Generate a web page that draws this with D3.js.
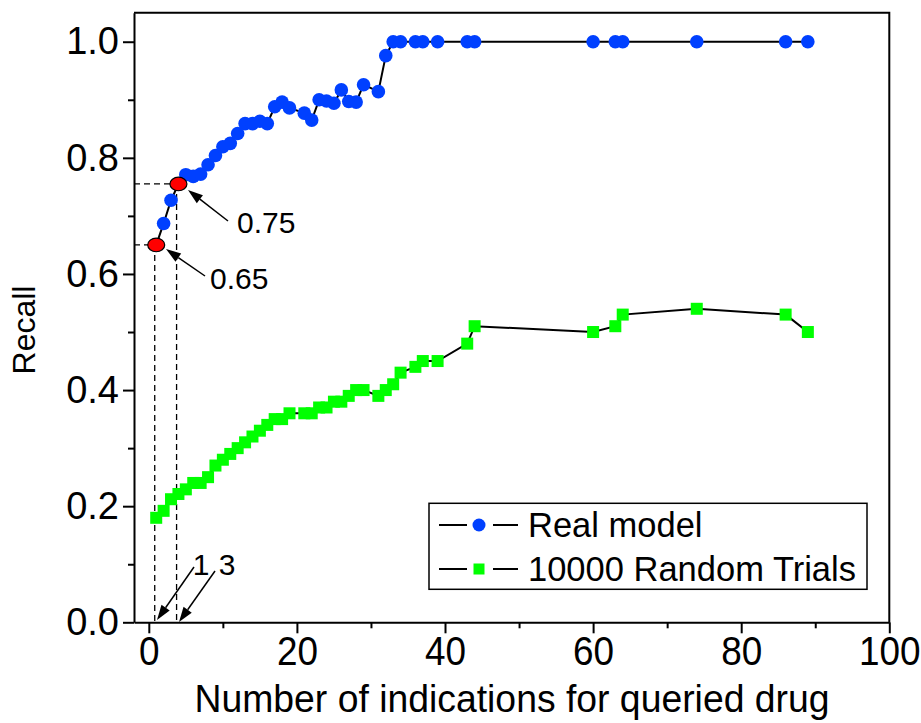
<!DOCTYPE html>
<html><head><meta charset="utf-8">
<script src="https://cdn.jsdelivr.net/npm/d3@7"></script>
<style>
html,body{margin:0;padding:0;background:#fff;}
text{font-family:"Liberation Sans",Arial,sans-serif;fill:#000;}
</style></head>
<body>
<svg id="chart" width="921" height="723"></svg>
<script>
// ---- data ----
const indications = [1,2,3,4,5,6,7,8,9,10,11,12,13,14,15,16,17,18,19,21,22,23,24,25,26,27,28,29,31,32,33,34,36,37,39,43,44,60,63,64,74,86,89];
const realModel = [0.65,0.687,0.727,0.755,0.771,0.768,0.772,0.788,0.804,0.819,0.825,0.842,0.859,0.859,0.863,0.859,0.888,0.896,0.886,0.877,0.865,0.900,0.898,0.894,0.917,0.897,0.896,0.926,0.914,0.976,1,1,1,1,1,1,1,1,1,1,1,1,1];
const randomTrials = [0.180,0.192,0.212,0.221,0.229,0.240,0.240,0.250,0.270,0.280,0.290,0.300,0.310,0.320,0.330,0.340,0.350,0.350,0.360,0.360,0.360,0.370,0.370,0.380,0.380,0.390,0.400,0.400,0.390,0.400,0.410,0.430,0.440,0.450,0.450,0.480,0.510,0.500,0.510,0.530,0.540,0.530,0.500];
const xMajorTicks = [0,20,40,60,80,100];
const xMinorTicks = [10,30,50,70,90];
const yMajorTicks = [0,0.2,0.4,0.6,0.8,1.0];
const yMinorTicks = [0.1,0.3,0.5,0.7,0.9];
const highlights = [{x:1,y:0.65,label:"0.65"},{x:4,y:0.755,label:"0.75"}];
const seriesNames = ["Real model","10000 Random Trials"];

const svg = d3.select("#chart");
const L=134, R=889.3, T=12.7, B=622.3;
const x = d3.scaleLinear().domain([-2,100]).range([L,R]);
const y = d3.scaleLinear().domain([0,1.05]).range([B,T]);

// frame
svg.append("path").attr("d",`M${L},${T}H${R}V${B}`).attr("fill","none").attr("stroke","#000").attr("stroke-width",2);

// axes
const gx = svg.append("g").attr("transform",`translate(0,${B})`);
gx.call(d3.axisBottom(x).tickValues(xMajorTicks).tickSize(11).tickSizeOuter(0).tickPadding(3).tickFormat(d3.format("d")));
const gxm = svg.append("g").attr("transform",`translate(0,${B})`);
gxm.call(d3.axisBottom(x).tickValues(xMinorTicks).tickSize(6).tickFormat(""));
gxm.select(".domain").remove();
const gy = svg.append("g").attr("transform",`translate(${L},0)`);
gy.call(d3.axisLeft(y).tickValues(yMajorTicks).tickSize(11).tickSizeOuter(0).tickPadding(4).tickFormat(d3.format(".1f")));
const gym = svg.append("g").attr("transform",`translate(${L},0)`);
gym.call(d3.axisLeft(y).tickValues(yMinorTicks).tickSize(6).tickFormat(""));
gym.select(".domain").remove();
svg.selectAll(".domain, .tick line").attr("stroke","#000").attr("stroke-width",2);
gx.selectAll("text").attr("font-size",41).attr("font-family","Liberation Sans, Arial").attr("transform","scale(0.9,1)");
gy.selectAll("text").attr("font-size",38).attr("font-family","Liberation Sans, Arial");

// axis titles
svg.append("text").attr("x",512).attr("y",712).attr("text-anchor","middle")
  .attr("font-size",38).attr("textLength",635).attr("lengthAdjust","spacingAndGlyphs")
  .text("Number of indications for queried drug");
svg.append("text").attr("transform",`translate(35,330) rotate(-90)`).attr("text-anchor","middle")
  .attr("font-size",32).text("Recall");

// dashed guides
const dash = svg.append("g").attr("stroke","#000").attr("stroke-width",1.3).attr("stroke-dasharray","6,4").attr("fill","none");
dash.append("line").attr("x1",L).attr("x2",x(1)).attr("y1",y(0.65)).attr("y2",y(0.65));
dash.append("line").attr("x1",L).attr("x2",x(4)).attr("y1",y(0.755)).attr("y2",y(0.755));
dash.append("line").attr("x1",x(0.8)).attr("x2",x(0.8)).attr("y1",y(0.65)).attr("y2",B);
dash.append("line").attr("x1",x(3.75)).attr("x2",x(3.75)).attr("y1",y(0.755)).attr("y2",B);

// lines
const pts1 = indications.map((d,i)=>[d,realModel[i]]);
const pts2 = indications.map((d,i)=>[d,randomTrials[i]]);
const line = d3.line().x(d=>x(d[0])).y(d=>y(d[1]));
svg.append("path").datum(pts1).attr("d",line).attr("fill","none").attr("stroke","#000").attr("stroke-width",2);
svg.append("path").datum(pts2).attr("d",line).attr("fill","none").attr("stroke","#000").attr("stroke-width",2);

// markers
const blue="#0040ff", green="#00ff00";
svg.append("g").selectAll("circle").data(pts1).join("circle")
  .attr("cx",d=>x(d[0])).attr("cy",d=>y(d[1])).attr("r",6.8).attr("fill",blue);
svg.append("g").selectAll("rect").data(pts2).join("rect")
  .attr("x",d=>x(d[0])-6).attr("y",d=>y(d[1])-6).attr("width",12).attr("height",12).attr("fill",green);

// highlighted red points
svg.append("g").selectAll("ellipse").data(highlights).join("ellipse")
  .attr("cx",d=>x(d.x)).attr("cy",d=>y(d.y)).attr("rx",8.5).attr("ry",6.8)
  .attr("fill","#ff0000").attr("stroke","#000").attr("stroke-width",1.2);

// arrows
function arrow(x1,y1,x2,y2){
  const a=Math.atan2(y2-y1,x2-x1), len=15, w=5;
  const bx=x2-len*Math.cos(a), by=y2-len*Math.sin(a);
  svg.append("line").attr("x1",x1).attr("y1",y1).attr("x2",bx).attr("y2",by).attr("stroke","#000").attr("stroke-width",1.5);
  const px=-Math.sin(a)*w, py=Math.cos(a)*w;
  svg.append("path").attr("d",`M${x2},${y2}L${bx+px},${by+py}L${bx-px},${by-py}Z`).attr("fill","#000");
}
arrow(228,221,188,190);
arrow(205,276,166,249);
arrow(194,567,157,620);
arrow(215,571,179,622);

svg.append("text").attr("x",237).attr("y",233).attr("font-size",30).text(highlights[1].label);
svg.append("text").attr("x",210).attr("y",289).attr("font-size",30).text(highlights[0].label);
svg.append("text").attr("x",201).attr("y",575).attr("text-anchor","middle").attr("font-size",30).text("1");
svg.append("text").attr("x",227).attr("y",575).attr("text-anchor","middle").attr("font-size",30).text("3");

// legend
const lg = svg.append("g");
lg.append("rect").attr("x",429).attr("y",503.3).attr("width",438).attr("height",86).attr("fill","#fff").attr("stroke","#000").attr("stroke-width",1.5);
const rows=[525,569];
rows.forEach((ry,i)=>{
  lg.append("line").attr("x1",439).attr("x2",467).attr("y1",ry).attr("y2",ry).attr("stroke","#000").attr("stroke-width",2);
  lg.append("line").attr("x1",493).attr("x2",518).attr("y1",ry).attr("y2",ry).attr("stroke","#000").attr("stroke-width",2);
  if(i===0) lg.append("circle").attr("cx",479).attr("cy",ry).attr("r",6.5).attr("fill",blue);
  else lg.append("rect").attr("x",473.5).attr("y",ry-5.5).attr("width",11).attr("height",11).attr("fill",green);
  lg.append("text").attr("x",528).attr("y",ry).attr("dy","0.36em").attr("font-size",34.5).text(seriesNames[i]);
});
</script>
</body></html>
